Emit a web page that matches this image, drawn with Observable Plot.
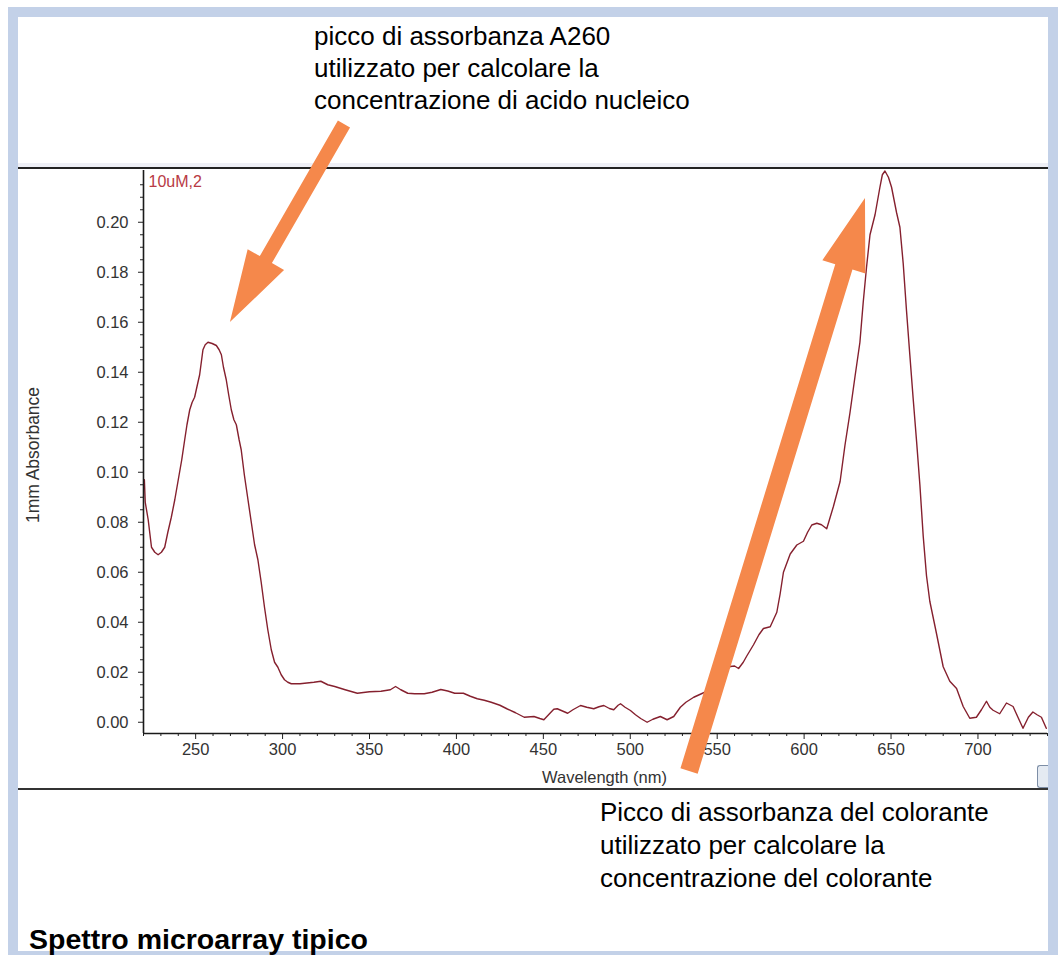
<!DOCTYPE html>
<html><head><meta charset="utf-8">
<script src="https://cdn.jsdelivr.net/npm/d3@7"></script>
<script src="https://cdn.jsdelivr.net/npm/@observablehq/plot@0.6"></script>
<style>
html,body{margin:0;padding:0;background:#fff;}
body{width:1058px;height:955px;position:relative;overflow:hidden;font-family:"Liberation Sans",Arial,sans-serif;}
#frame{position:absolute;left:8px;top:7px;width:1030px;height:934px;border-style:solid;border-color:#c3d1e8;border-width:10px 10px 4px 10px;}
.hline{position:absolute;left:18px;width:1030px;}
#chart{position:absolute;left:18px;top:17px;}
.ann{position:absolute;font-size:26px;color:#000;white-space:nowrap;}
#ann1{left:314px;top:20px;line-height:32px;}
#ann2{left:600px;top:796px;line-height:33px;}
#caption{position:absolute;left:29px;top:925px;font-size:28.5px;font-weight:bold;line-height:28.5px;white-space:nowrap;}
#btn{position:absolute;left:1037px;top:765px;width:10px;height:21px;border:1px solid #7d8ea6;border-right:none;border-radius:3px 0 0 3px;background:#e4eaf2;}
</style>
</head><body>
<div id="frame"></div>
<div class="hline" style="top:163px;height:4px;background:#eeeff6"></div>
<div class="hline" style="top:167px;height:2px;background:#222"></div>
<div class="hline" style="top:788px;height:2px;background:#333"></div>
<div id="btn"></div>
<div id="chart"></div>
<div class="ann" id="ann1">picco di assorbanza A260<br>utilizzato per calcolare la<br>concentrazione di acido nucleico</div>
<div class="ann" id="ann2">Picco di assorbanza del colorante<br>utilizzato per calcolare la<br>concentrazione del colorante</div>
<div id="caption">Spettro microarray tipico</div>
<script>
// Spectrum: wavelength (nm) and 1mm absorbance
const wavelengths = [220.5,221,222.7,224.6,226.5,228.4,230.3,232.2,234,236,238,240,242,243.7,245,246.6,248,249.4,251,252.3,254.2,255.5,257.1,259.5,261.9,263.5,264.8,266,267.6,269,270.5,272,273.4,275,276.2,278,280.1,282,283.9,285.8,287.7,289.6,291.5,293.5,295.4,297.3,299.2,301.1,303,305,310,314,318,322,326,330,336,343,350,356.6,362,365,368,372,376,381.5,386,391,395,399,404,408,412,416,420,425,429,434,439,444.6,448,450.3,453,456,458,461,464,467,471.4,475,479,482,484.8,488,490.5,493,494.4,497,500.1,503,506,509.7,513,517.3,521.2,525,528.8,532,536.5,542.2,546,550,554,557.5,560,562.3,565,567.1,570.9,574,576.6,580.5,584.3,586.2,588.1,592,595.8,599.6,602,604.4,607.3,610,613,616.8,620.7,623.5,626.4,629.3,632.1,634,635.9,637.9,640.8,643.6,645,646.5,648.5,650.3,653.2,655.1,657,658.9,660.8,662.7,664.7,666.6,668.5,670.4,672.3,676.2,680,683.8,687.7,691.5,695.3,699.1,702,704.9,706.8,708.7,712.5,716.4,720.2,723,725.9,729,731.6,734,736.5,739.3];
const absorbance = [0.097,0.088,0.081,0.070,0.068,0.067,0.068,0.070,0.076,0.082,0.089,0.097,0.105,0.113,0.119,0.125,0.128,0.130,0.135,0.139,0.149,0.151,0.152,0.1515,0.1507,0.149,0.147,0.142,0.137,0.131,0.125,0.121,0.119,0.113,0.109,0.099,0.089,0.080,0.071,0.065,0.056,0.046,0.037,0.029,0.024,0.022,0.019,0.017,0.016,0.0154,0.0154,0.0157,0.016,0.0164,0.015,0.0143,0.013,0.0116,0.0122,0.0124,0.013,0.0143,0.013,0.0116,0.0114,0.0114,0.012,0.0131,0.0125,0.0116,0.0116,0.0104,0.0094,0.0088,0.008,0.0068,0.0054,0.0038,0.002,0.0023,0.0015,0.001,0.003,0.0052,0.0054,0.0045,0.0036,0.005,0.0067,0.006,0.0054,0.0062,0.0067,0.0055,0.005,0.0068,0.0074,0.006,0.0047,0.003,0.0015,0.0,0.0012,0.0023,0.001,0.0023,0.006,0.008,0.010,0.0118,0.014,0.017,0.020,0.0223,0.0225,0.0215,0.024,0.0266,0.031,0.035,0.0375,0.0382,0.044,0.0513,0.060,0.0673,0.0709,0.0724,0.076,0.0789,0.0796,0.079,0.0774,0.0862,0.0963,0.1108,0.1239,0.1384,0.152,0.168,0.182,0.195,0.203,0.214,0.219,0.2205,0.218,0.214,0.2038,0.198,0.1835,0.1646,0.147,0.1297,0.1123,0.0949,0.0745,0.0586,0.0484,0.0353,0.0222,0.0164,0.0135,0.0063,0.0016,0.002,0.005,0.0084,0.006,0.0048,0.0034,0.0077,0.0063,0.002,-0.0024,0.002,0.0041,0.003,0.002,-0.0024];

const xDomain = [220, 740];
const yDomain = [-0.0045, 0.2207];
const xMajorTicks = [250,300,350,400,450,500,550,600,650,700];
const xMinorTicks = [220,230,240,260,270,280,290,310,320,330,340,360,370,380,390,410,420,430,440,460,470,480,490,510,520,530,540,560,570,580,590,610,620,630,640,660,670,680,690,710,720,730,740];
const yMajorTicks = [0.00,0.02,0.04,0.06,0.08,0.10,0.12,0.14,0.16,0.18,0.20];
const yMinorTicks = [0.005,0.01,0.015,0.025,0.03,0.035,0.045,0.05,0.055,0.065,0.07,0.075,0.085,0.09,0.095,0.105,0.11,0.115,0.125,0.13,0.135,0.145,0.15,0.155,0.165,0.17,0.175,0.185,0.19,0.195,0.205,0.21,0.215];
const seriesName = ["10uM,2"];
const xLabel = ["Wavelength (nm)"];
const yLabel = ["1mm Absorbance"];
// arrow annotations (data coordinates: [nm, absorbance])
const arrowFrom = [[335.6, 0.2391],[534.1, -0.0197]];
const arrowTo = [[270.0, 0.1599],[635.3, 0.2095]];

const spectrum = wavelengths.map((w,i)=>({nm:w, abs:absorbance[i]}));
const FONT = '"Liberation Sans", Arial, sans-serif';

const plot = Plot.plot({
  width: 1030, height: 928,
  marginLeft: 125, marginRight: 1, marginTop: 153, marginBottom: 212,
  style: {background: "transparent", fontFamily: FONT, fontSize: "16.5px", overflow: "visible"},
  x: {domain: xDomain},
  y: {domain: yDomain},
  marks: [
    Plot.line(spectrum, {x: "nm", y: "abs", stroke: "#85202e", strokeWidth: 1.4, clip: true}),
    Plot.axisY(yMinorTicks, {tickSize: 3, tickFormat: () => "", label: null, stroke: "#222"}),
    Plot.axisY(yMajorTicks, {tickSize: 5, tickPadding: 10, tickFormat: d3.format(".2f"), label: null, stroke: "#222", fill: "#333", fontSize: 16.5}),
    Plot.axisX(xMinorTicks, {tickSize: 3, tickFormat: () => "", label: null, stroke: "#222"}),
    Plot.axisX(xMajorTicks, {tickSize: 6, tickPadding: 4, tickFormat: d3.format("d"), label: null, stroke: "#222", fill: "#333", fontSize: 16.5}),
    Plot.ruleX([xDomain[0]], {stroke: "#1a1a1a", strokeWidth: 1.6}),
    Plot.ruleY([yDomain[0]], {stroke: "#1a1a1a", strokeWidth: 1.6}),
    Plot.text(yLabel, {text: d => d, frameAnchor: "left", textAnchor: "middle", dx: -110, dy: 3, rotate: -90, fontSize: 17.5, fill: "#333"}),
    Plot.text(xLabel, {text: d => d, frameAnchor: "bottom", textAnchor: "middle", dx: 9, dy: 49, fontSize: 16.5, fill: "#333"}),
    Plot.text(seriesName, {text: d => d, frameAnchor: "top-left", dx: 5, dy: 5, textAnchor: "start", fill: "#b83a44", fontSize: 16})
  ]
});
document.getElementById("chart").appendChild(plot);

// arrows drawn through Plot's own scales
const sx = plot.scale("x"), sy = plot.scale("y");
const svg = d3.select(plot);
const arrowShape = [{w: 7, L: 72, H: 21}, {w: 9, L: 72, H: 22.5}];
arrowFrom.forEach((f, i) => {
  const T = [sx.apply(f[0]), sy.apply(f[1])];
  const P = [sx.apply(arrowTo[i][0]), sy.apply(arrowTo[i][1])];
  const dx = P[0]-T[0], dy = P[1]-T[1], len = Math.hypot(dx, dy);
  const u = [dx/len, dy/len], n = [-u[1], u[0]];
  const {w, L, H} = arrowShape[i];
  const B = [P[0]-L*u[0], P[1]-L*u[1]];
  const pt = (p, k) => [p[0]+k*n[0], p[1]+k*n[1]];
  const pts = [pt(T, w), pt(B, w), pt(B, H), P, pt(B, -H), pt(B, -w), pt(T, -w)];
  svg.append("path").attr("d", "M" + pts.map(p => p.join(",")).join("L") + "Z").attr("fill", "#f5884b");
});
</script>
</body></html>
